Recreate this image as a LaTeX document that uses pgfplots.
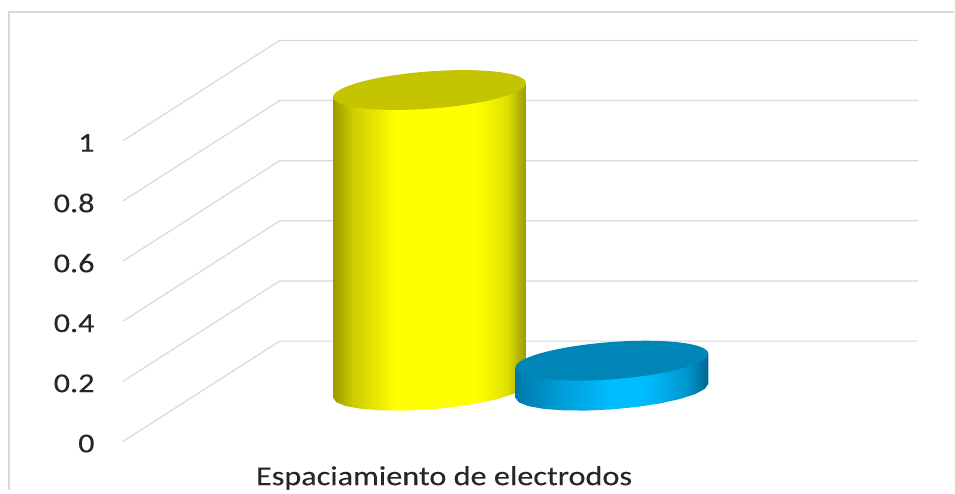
\documentclass[border=0pt]{standalone}
\usepackage{fontspec}
\setmainfont{Carlito}[FakeStretch=1.18,FakeBold=0.2]
\usepackage{pgfplots}
\pgfplotsset{compat=1.18}

% Shading across the width of each cylinder: only 25bp to 75bp falls inside the path
\pgfdeclarehorizontalshading{cylY}{100bp}{rgb(0bp)=(0.60,0.60,0);rgb(25bp)=(0.60,0.60,0);
  rgb(30bp)=(0.80,0.80,0);rgb(41bp)=(1,1,0);
  rgb(62bp)=(1,1,0);rgb(70bp)=(0.88,0.88,0);
  rgb(75bp)=(0.60,0.60,0);rgb(100bp)=(0.60,0.60,0)}
\pgfdeclarehorizontalshading{cylB}{100bp}{rgb(0bp)=(0,0.47,0.66);rgb(25bp)=(0,0.47,0.66);
  rgb(37bp)=(0,0.62,0.85);rgb(50bp)=(0,0.74,1);
  rgb(58bp)=(0,0.74,1);rgb(69bp)=(0,0.60,0.82);
  rgb(75bp)=(0,0.40,0.56);rgb(100bp)=(0,0.40,0.56)}

% Slanted top face of a cylinder
\pgfdeclareplotmark{capflat}{\pgfpathellipse{\pgfpointorigin}{\pgfqpoint{72.375pt}{5.25pt}}{\pgfqpoint{0pt}{14pt}}\pgfusepathqfill}

\definecolor{gridgray}{HTML}{D9D9D9}
\definecolor{capY}{HTML}{C4C400}
\definecolor{capB}{HTML}{0086B6}
\definecolor{labeltext}{HTML}{262626}

\begin{document}
\begin{tikzpicture}
\begin{axis}[
  scale only axis,
  width=716.25pt, height=368.25pt,
  xmin=0, xmax=955,
  ymin=-0.1628, ymax=1.4684,
  axis line style={draw=none},
  tick style={draw=none},
  ytick={0,0.2,0.4,0.6,0.8,1},
  xtick={444.5},
  xticklabels={Espaciamiento de electrodos},
  /pgf/number format/assume math mode=true,
  yticklabel style={font=\fontsize{20.5}{24}\selectfont, text=labeltext, anchor=east, xshift=74.5pt, yshift=-1.5pt},
  xticklabel style={font=\fontsize{20.5}{24}\selectfont, text=labeltext, anchor=center, yshift=9.5pt},
  clip=false,
]
% Chart frame, open towards the right and the bottom
\addplot[gridgray, line width=1.5pt] coordinates {(9,-0.1628) (9,1.4286) (955,1.4286)};

% Floor and side wall gridlines
\addplot[gridgray, line width=0.9pt] coordinates {(123,0)   (280,0.334) (919,0.334)};
\addplot[gridgray, line width=0.9pt] coordinates {(123,0.2) (280,0.534) (919,0.534)};
\addplot[gridgray, line width=0.9pt] coordinates {(123,0.4) (280,0.734) (919,0.734)};
\addplot[gridgray, line width=0.9pt] coordinates {(123,0.6) (280,0.934) (919,0.934)};
\addplot[gridgray, line width=0.9pt] coordinates {(123,0.8) (280,1.134) (919,1.134)};
\addplot[gridgray, line width=0.9pt] coordinates {(123,1)   (280,1.334) (919,1.334)};

% Yellow cylinder, value 1, standing on the floor level 0.169
\addplot[draw=none, shade, shading=cylY] coordinates {
  (333.5,1.146) (526.5,1.192) (526.5,0.192) (523.2,0.1754) (513.6,0.1581)
  (498.2,0.1415) (478.25,0.1268) (455,0.1150) (430,0.1069) (405,0.1030)
  (381.75,0.1036) (361.8,0.1086) (346.4,0.1178) (336.8,0.1305) (333.5,0.1457)};
\addplot[only marks, mark=capflat, mark options={draw=none, fill=capY}] coordinates {(430,1.169)};

% Blue cylinder, value 0.1, on the same floor
\addplot[draw=none, shade, shading=cylB] coordinates {
  (516,0.246) (709,0.292) (709,0.192) (705.7,0.1754) (696.1,0.1581)
  (680.7,0.1415) (660.75,0.1268) (637.5,0.1150) (612.5,0.1069) (587.5,0.1030)
  (564.25,0.1036) (544.3,0.1086) (528.9,0.1178) (519.3,0.1305) (516,0.1457)};
\addplot[only marks, mark=capflat, mark options={draw=none, fill=capB}] coordinates {(612.5,0.269)};
\end{axis}
\end{tikzpicture}
\end{document}
